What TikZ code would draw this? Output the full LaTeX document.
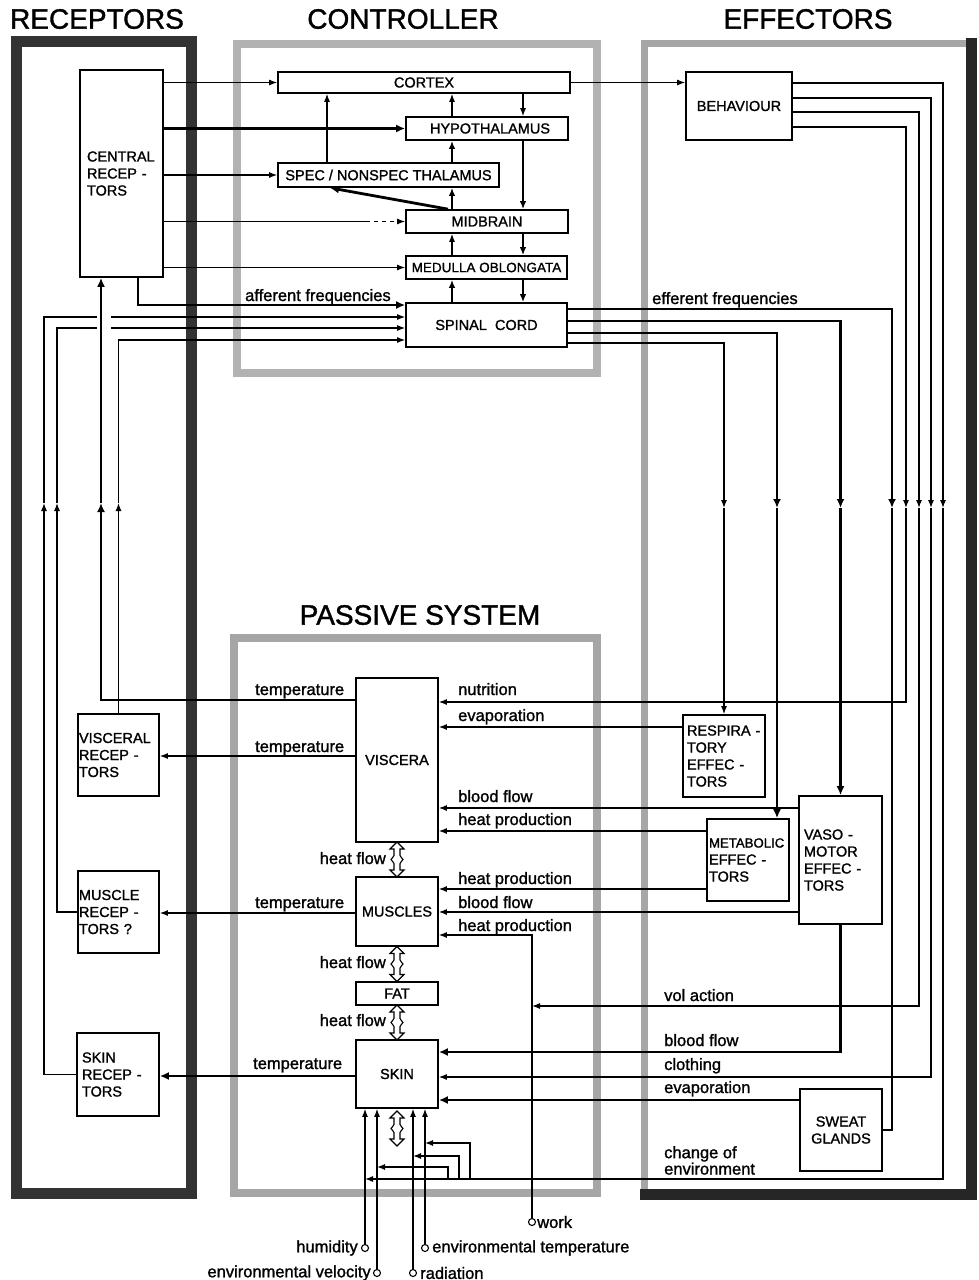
\documentclass[tikz,border=0pt]{standalone}
\usepackage{fontspec}
\setmainfont{Liberation Sans}[FakeBold=1.3]
\usetikzlibrary{arrows.meta}
\newcommand{\bxf}{\fontsize{14.5}{17}\selectfont}
\newcommand{\lbf}{\fontsize{16.5}{15}\selectfont}
\newcommand{\hdf}{\fontsize{28}{30}\selectfont}
\begin{document}
\begin{tikzpicture}[x=1pt,y=-1pt,>={Latex[length=8pt,width=6pt]},
  box/.style={draw, line width=1.7pt, fill=white, inner sep=1pt, font=\bxf},
  tn/.style={line width=1.2pt},
  md/.style={line width=2pt, >={Latex[length=8pt,width=6.5pt]}},
  tk/.style={line width=2.8pt, >={Latex[length=9pt,width=8pt]}},
  lab/.style={font=\lbf, inner sep=0pt},
  hd/.style={font=\hdf, inner sep=0pt},
  port/.style={circle, draw, line width=1.1pt, fill=white, minimum size=7pt, inner sep=0pt},
  hflow/.pic={\draw[line width=1.1pt, fill=white, line join=miter]
    (0,-17.5) -- (7,-10.5) -- (3,-10.5) -- (3,-4)
    .. controls (3,-1.5) and (6,-2) .. (6,0)
    .. controls (6,2) and (3,1.5) .. (3,4)
    -- (3,10.5) -- (7,10.5) -- (0,17.5) -- (-7,10.5) -- (-3,10.5) -- (-3,4)
    .. controls (-3,1.5) and (-6,2) .. (-6,0)
    .. controls (-6,-2) and (-3,-1.5) .. (-3,-4)
    -- (-3,-10.5) -- (-7,-10.5) -- cycle;}
]
\useasboundingbox (0,0) rectangle (978,1280);
\fill[white] (0,0) rectangle (978,1280);

% ---------- frames
\draw[line width=11pt, draw=black!80] (16,41.5) rectangle (191,1193.5);
\draw[line width=8pt, draw=black!30] (237,44) rectangle (597,373);
\draw[line width=8pt, draw=black!35] (234,638) rectangle (597,1193);
\draw[line width=7pt, draw=black!35] (971,43) -- (644,43) -- (644,1194);
\draw[line width=11pt, draw=black!85] (971,38) -- (971,1194) -- (640,1194);

% ---------- headings
\node[hd] (hrec) at (97,19) {RECEPTORS};
\node[hd] (hcon) at (403,19) {CONTROLLER};
\node[hd] (heff) at (808,19) {EFFECTORS};
\node[hd] (hpas) at (420,615) {PASSIVE SYSTEM};

% ---------- controller
\node[box, minimum width=292pt, minimum height=21pt] (cortex) at (424,82.5) {CORTEX};
\node[box, minimum width=162pt, minimum height=23pt] (hypo) at (487,128.5) {\hspace{6pt}HYPOTHALAMUS};
\node[box, minimum width=221pt, minimum height=24pt] (thal) at (388.5,175) {SPEC / NONSPEC THALAMUS};
\node[box, minimum width=162pt, minimum height=23pt] (midb) at (487,221.5) {MIDBRAIN};
\node[box, minimum width=161pt, minimum height=23pt] (medo) at (486.5,267.5) {\fontsize{13.5}{16}\selectfont MEDULLA OBLONGATA};
\node[box, minimum width=161pt, minimum height=44pt] (spin) at (486.5,325) {SPINAL\ \ CORD};

% ---------- effectors
\node[box, minimum width=106pt, minimum height=68pt] (behav) at (739,106) {BEHAVIOUR};
\node[box, text width=74pt, inner xsep=4pt, minimum height=82pt, align=left] (resp) at (724,756) {RESPIRA -\\TORY\\EFFEC -\\TORS};
\node[box, text width=78pt, inner xsep=2pt, minimum height=82pt, align=left] (metab) at (748,860) {{\fontsize{13.2}{17}\selectfont METABOLIC}\\EFFEC -\\TORS};
\node[box, text width=73pt, inner xsep=5pt, minimum height=128pt, align=left] (vaso) at (840.5,860) {VASO -\\MOTOR\\EFFEC -\\TORS};
\node[box, minimum width=82pt, minimum height=82pt, align=center] (sweat) at (841,1130) {SWEAT\\GLANDS};

% ---------- receptors
\node[box, text width=69pt, inner xsep=7pt, minimum height=207pt, align=left] (cent) at (121.5,173.5) {CENTRAL\\RECEP -\\TORS};
\node[box, text width=79pt, minimum height=82pt, align=left] (viscr) at (118.5,755) {VISCERAL\\RECEP -\\TORS};
\node[box, text width=79pt, minimum height=82pt, align=left] (muscr) at (118.5,912) {MUSCLE\\RECEP -\\TORS ?};
\node[box, text width=72pt, inner xsep=5pt, minimum height=83pt, align=left] (skinr) at (118,1074.5) {SKIN\\RECEP -\\TORS};

% ---------- passive system
\node[box, minimum width=82pt, minimum height=164pt] (visc) at (397,760) {VISCERA};
\node[box, minimum width=82pt, minimum height=69pt] (musc) at (397,911.5) {MUSCLES};
\node[box, minimum width=82pt, minimum height=23pt] (fat) at (397,993.5) {FAT};
\node[box, minimum width=82pt, minimum height=68pt] (skin) at (397,1074) {SKIN};

% ---------- ports
\node[port] (humc) at (365,1248) {};
\node[port] (velc) at (377,1273) {};
\node[port] (radc) at (413,1273) {};
\node[port] (etc) at (425,1248) {};
\node[port] (workc) at (532,1222) {};

% ---------- helper coordinates
\coordinate (mgap) at (366,221.5);
\coordinate (b1) at (943,508);
\coordinate (b2) at (931,508);
\coordinate (b3) at (919,508);
\coordinate (b4) at (906,508);
\coordinate (e1) at (892,508);
\coordinate (e2) at (vaso.north |- 0,508);
\coordinate (e3) at (777,508);
\coordinate (e4) at (resp.north |- 0,508);
\coordinate (ce1) at (470,1179);
\coordinate (ce2) at (459,1179);
\coordinate (ce3) at (448,1179);
\coordinate (aSk) at (44,503);
\coordinate (aMu) at (57,503);
\coordinate (aVr) at (viscr.north |- 0,503);
\coordinate (aTv) at (101,503);

% ---------- central receptors -> controller
\draw[tn,->] (cent.east |- cortex.west) -- (cortex.west);
\draw[tk,->] (cent.east |- hypo.west) -- (hypo.west);
\draw[tn,->] (cent.east |- thal.west) -- (thal.west);
\draw[tn] (cent.east |- midb.west) -- (mgap);
\draw[tn,->,dash pattern=on 4pt off 4pt] (mgap) -- (midb.west);
\draw[tn,->] (cent.east |- medo.west) -- (medo.west);
\draw[tk,->] (cent.south -| 138,0) |- (spin.west |- 0,305);

% ---------- controller internal
\draw[tn,->] (thal.north -| 327,0) -- (cortex.south -| 327,0);
\draw[tn,->] (hypo.north -| 452,0) -- (cortex.south -| 452,0);
\draw[md,->] (thal.north -| 452,0) -- (hypo.south -| 452,0);
\draw[md,->] (midb.north -| 452,0) -- (thal.south -| 452,0);
\draw[tn,->] (medo.north -| 452,0) -- (midb.south -| 452,0);
\draw[md,->] (spin.north -| 452,0) -- (medo.south -| 452,0);
\draw[tn,->] (cortex.south -| 523,0) -- (hypo.north -| 523,0);
\draw[md,->] (hypo.south -| 523,0) -- (midb.north -| 523,0);
\draw[md,->] (midb.south -| 523,0) -- (medo.north -| 523,0);
\draw[md,->] (medo.south -| 523,0) -- (spin.north -| 523,0);
\draw[tk,->] (midb.north -| 448,0) -- (thal.south -| 330,0);
\draw[tn,->] (cortex.east) -- (behav.west |- cortex.east);

% ---------- behaviour outputs
\draw[tn,->] (behav.east |- 0,83) -| (b1);
\draw[tn,->] (behav.east |- 0,98) -| (b2);
\draw[tn,->] (behav.east |- 0,112) -| (b3);
\draw[tn,->] (behav.east |- 0,127) -| (b4);
\draw[tn,->] (b4) |- (visc.east |- 0,702);
\draw[tn,->] (b3) |- (workc |- 0,1006);
\draw[tn,->] (b2) |- (skin.east |- 0,1077);
\draw[tn,->] (b1) |- (humc |- 0,1179);
\draw[tn,->] (ce1) |- (etc |- 0,1143);
\draw[tn,->] (ce2) |- (radc |- 0,1156);
\draw[tn,->] (ce3) |- (velc |- 0,1167);

% ---------- spinal cord efferents
\draw[tk,->] (spin.east |- 0,309) -| (e1);
\draw[tk] (e1) |- (sweat.east);
\draw[tk,->] (spin.east |- 0,321) -| (e2);
\draw[tk,->] (e2) -- (vaso.north);
\draw[tk,->] (spin.east |- 0,333) -| (e3);
\draw[tk,->] (e3) -- (e3 |- metab.north);
\draw[tn,->] (spin.east |- 0,343) -| (e4);
\draw[tn,->] (e4) -- (resp.north);
\draw[tk,->] (vaso.south) |- (skin.east |- 0,1052);

% ---------- effectors -> passive system
\draw[tn,->] (resp.west |- 0,727) -- (visc.east |- 0,727);
\draw[tn,->] (vaso.west |- 0,808) -- (visc.east |- 0,808);
\draw[tn,->] (metab.west |- 0,831) -- (visc.east |- 0,831);
\draw[tn,->] (metab.west |- 0,889) -- (musc.east |- 0,889);
\draw[tn,->] (vaso.west |- 0,912) -- (musc.east |- 0,912);
\draw[tn,->] (workc.north) |- (musc.east |- 0,935);
\draw[tk,->] (sweat.west |- 0,1100) -- (skin.east |- 0,1100);

% ---------- environment -> skin
\draw[tn,->] (humc.north) -- (skin.south -| humc);
\draw[tn,->] (velc.north) -- (skin.south -| velc);
\draw[tn,->] (radc.north) -- (skin.south -| radc);
\draw[tn,->] (etc.north) -- (skin.south -| etc);

% ---------- passive system -> receptors
\draw[tn,->] (visc.west |- 0,756) -- (viscr.east |- 0,756);
\draw[tn,->] (musc.west |- 0,913) -- (muscr.east |- 0,913);
\draw[tk,->] (skin.west |- 0,1076) -- (skinr.east |- 0,1076);

% ---------- receptors -> spinal cord
\draw[tn,->] (skinr.west) -| (aSk);
\draw[tn,->] (aSk) |- (spin.west |- 0,317);
\draw[tn,->] (muscr.west) -| (aMu);
\draw[tn,->] (aMu) |- (spin.west |- 0,328);
\draw[tn,->] (viscr.north) -- (aVr);
\draw[tn,->] (aVr) |- (spin.west |- 0,340);
\fill[white] (97,311) rectangle (111,333);
\draw[tk,->] (visc.west |- 0,700) -| (aTv);
\draw[tk,->] (aTv) -- (cent.south -| aTv);

% ---------- heat flow arrows
\pic (hf1) at (397,859.5) {hflow};
\pic (hf2) at (397,964) {hflow};
\pic (hf3) at (397,1022.5) {hflow};
\pic (hf4) at (397,1128.5) {hflow};

% ---------- labels
\node[lab, anchor=base west] (laf) at (245,301) {afferent frequencies};
\node[lab, anchor=base west] (lef) at (652,304) {efferent frequencies};
\node[lab, anchor=base west] (lt1) at (255,695) {temperature};
\node[lab, anchor=base west] (lt2) at (255,752) {temperature};
\node[lab, anchor=base west] (lt3) at (255,908) {temperature};
\node[lab, anchor=base west] (lt4) at (253,1069) {temperature};
\node[lab, anchor=base west] (lnu) at (458,695) {nutrition};
\node[lab, anchor=base west] (lev1) at (458,721) {evaporation};
\node[lab, anchor=base west] (lbf1) at (458,802) {blood flow};
\node[lab, anchor=base west] (lhp1) at (458,825) {heat production};
\node[lab, anchor=base west] (lhp2) at (458,884) {heat production};
\node[lab, anchor=base west] (lbf2) at (458,908) {blood flow};
\node[lab, anchor=base west] (lhp3) at (458,931) {heat production};
\node[lab, anchor=base east] (lhf1) at (386,864) {heat flow};
\node[lab, anchor=base east] (lhf2) at (386,968) {heat flow};
\node[lab, anchor=base east] (lhf3) at (386,1026) {heat flow};
\node[lab, anchor=base west] (lva) at (664,1001) {vol action};
\node[lab, anchor=base west] (lbf3) at (664,1046) {blood flow};
\node[lab, anchor=base west] (lcl) at (664,1070) {clothing};
\node[lab, anchor=base west] (lev2) at (664,1093) {evaporation};
\node[lab, anchor=north west, align=left] (lce) at (664,1146) {change of\\environment};
\node[lab, anchor=east] (lhum) at ([xshift=-3pt]humc.west) {humidity};
\node[lab, anchor=east] (lvel) at ([xshift=-2pt]velc.west) {environmental velocity};
\node[lab, anchor=west] (lrad) at ([xshift=3pt]radc.east) {radiation};
\node[lab, anchor=west] (ltmp) at ([xshift=3pt]etc.east) {environmental temperature};
\node[lab, anchor=west] (lwork) at ([xshift=1pt]workc.east) {work};
\end{tikzpicture}
\end{document}
